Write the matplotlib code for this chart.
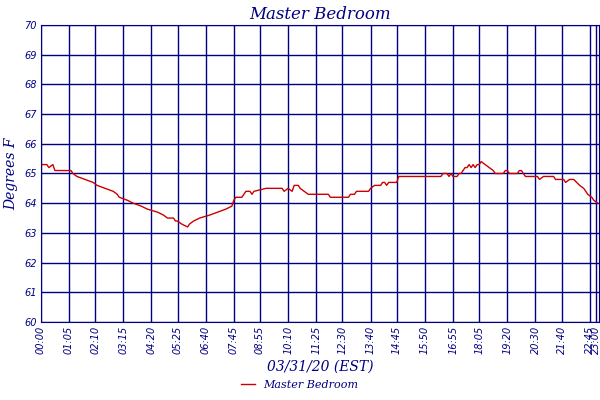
import matplotlib
matplotlib.use("Agg")
import matplotlib.pyplot as plt

NAVY = "#000080"

# sample index (5-min readings) and temperature
sample_idx = [0, 3, 4, 6, 7, 15, 16, 18, 22, 26,
              28, 32, 36, 38, 39, 43, 46, 50, 53, 58,
              61, 63, 66, 67, 68, 70, 73, 74, 76, 79,
              84, 88, 92, 95, 96, 97, 100, 101, 102, 104,
              105, 106, 112, 120, 121, 123, 125, 126, 128, 129,
              131, 133, 143, 144, 153, 154, 156, 157, 163, 164,
              166, 169, 170, 171, 172, 173, 177, 178, 199, 200,
              202, 203, 204, 205, 207, 208, 209, 210, 211, 212,
              213, 214, 215, 216, 217, 218, 219, 221, 223, 225,
              226, 230, 231, 232, 233, 237, 238, 239, 240, 241,
              247, 248, 250, 255, 256, 260, 261, 263, 265, 268,
              270, 272, 274, 275, 277]
temps = [65.3, 65.3, 65.2, 65.3, 65.1, 65.1, 65.0, 64.9, 64.8, 64.7,
         64.6, 64.5, 64.4, 64.3, 64.2, 64.1, 64.0, 63.9, 63.8, 63.7,
         63.6, 63.5, 63.5, 63.4, 63.4, 63.3, 63.2, 63.3, 63.4, 63.5,
         63.6, 63.7, 63.8, 63.9, 64.1, 64.2, 64.2, 64.3, 64.4, 64.4,
         64.3, 64.4, 64.5, 64.5, 64.4, 64.5, 64.4, 64.6, 64.6, 64.5,
         64.4, 64.3, 64.3, 64.2, 64.2, 64.3, 64.3, 64.4, 64.4, 64.5,
         64.6, 64.6, 64.7, 64.7, 64.6, 64.7, 64.7, 64.9, 64.9, 65.0,
         65.0, 64.9, 65.0, 64.9, 64.9, 65.0, 65.0, 65.1, 65.2, 65.2,
         65.3, 65.2, 65.3, 65.2, 65.3, 65.3, 65.4, 65.3, 65.2, 65.1,
         65.0, 65.0, 65.1, 65.1, 65.0, 65.0, 65.1, 65.1, 65.0, 64.9,
         64.9, 64.8, 64.9, 64.9, 64.8, 64.8, 64.7, 64.8, 64.8, 64.6,
         64.5, 64.3, 64.2, 64.1, 64.0]

tick_idx = [0, 14, 27, 41, 55, 68, 82, 96, 109, 123, 137,
            150, 164, 177, 191, 205, 218, 232, 246, 259, 273, 276]
tick_labels = ["00:00", "01:05", "02:10", "03:15", "04:20", "05:25", "06:40", "07:45",
               "08:55", "10:10", "11:25", "12:30", "13:40", "14:45", "15:50", "16:55",
               "18:05", "19:20", "20:30", "21:40", "22:45", "23:00"]
y_ticks = list(range(60, 71))

fig = plt.figure(figsize=(6, 4), dpi=100)
ax = fig.add_axes([0.068, 0.195, 0.93, 0.7425])
ax.plot(sample_idx, temps, color="#cc0000", linewidth=1.0, label="Master Bedroom")
ax.set_xlim(0, 277.5)
ax.set_ylim(60, 70)
ax.set_xticks(tick_idx)
ax.set_xticklabels(tick_labels, rotation=90, fontsize=7, style="italic", color=NAVY)
ax.set_yticks(y_ticks)
ax.set_yticklabels([str(v) for v in y_ticks], fontsize=7, style="italic", color=NAVY)
ax.tick_params(length=0, pad=3)
ax.grid(True, color=NAVY, linewidth=1.0)
for s in ax.spines.values():
    s.set_color(NAVY)

serif = dict(family="DejaVu Serif", style="italic", color=NAVY)
ax.set_title("Master Bedroom", fontsize=12, pad=4, **serif)
ax.set_xlabel("03/31/20 (EST)", fontsize=10, labelpad=4, **serif)
ax.set_ylabel("Degrees F", fontsize=10, labelpad=4, **serif)
leg = fig.legend(loc="lower center", bbox_to_anchor=(0.5, 0.0), frameon=False,
                 prop=dict(family="DejaVu Serif", style="italic", size=8), handlelength=1.2)
for t in leg.get_texts():
    t.set_color(NAVY)

fig.savefig("out.png", dpi=100)
